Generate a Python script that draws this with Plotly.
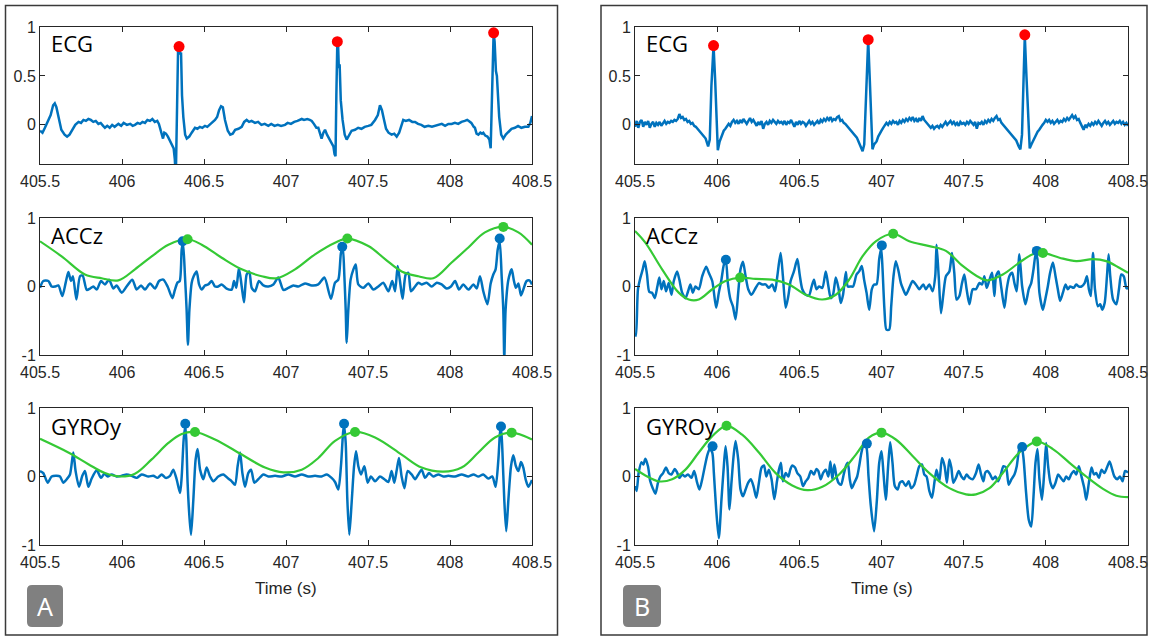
import plotly.graph_objects as go

# ---------------- DATA (time in s, normalised amplitude) ----------------
X_TICKS = [405.5, 406, 406.5, 407, 407.5, 408, 408.5]
X_TICK_LABELS = ["405.5", "406", "406.5", "407", "407.5", "408", "408.5"]
ECG_Y_TICKS = [0, 0.5, 1]
ECG_Y_LABELS = ["0", "0.5", "1"]
IMU_Y_TICKS = [-1, 0, 1]
IMU_Y_LABELS = ["-1", "0", "1"]
SIGNAL_NAMES = ["ECG", "ACCz", "GYROy"]
PANEL_NAMES = ["A", "B"]

A_ECG = [(405.500, -0.06), (405.515, -0.08), (405.530, -0.03), (405.550, 0.05), (405.565, 0.10), (405.580, 0.20),
         (405.590, 0.22), (405.600, 0.18), (405.615, 0.08), (405.630, -0.05), (405.650, -0.10), (405.665, -0.12),
         (405.680, -0.10), (405.700, -0.05), (405.715, 0.00), (405.735, 0.03), (405.750, 0.02), (405.765, 0.05),
         (405.780, 0.04), (405.795, 0.06), (405.810, 0.05), (405.825, 0.03), (405.840, 0.04), (405.856, 0.01),
         (405.870, 0.02), (405.885, -0.01), (405.896, -0.03), (405.910, -0.01), (405.925, -0.03), (405.940, 0.00),
         (405.955, -0.02), (405.978, 0.01), (405.995, -0.01), (406.010, 0.02), (406.030, 0.00), (406.050, 0.01),
         (406.065, -0.01), (406.079, 0.00), (406.095, 0.02), (406.110, 0.01), (406.125, 0.03), (406.140, 0.02),
         (406.155, 0.05), (406.171, 0.04), (406.185, 0.06), (406.200, 0.03), (406.215, 0.04), (406.225, 0.01),
         (406.235, -0.05), (406.242, -0.10), (406.250, -0.14), (406.258, -0.08), (406.268, -0.09), (406.280, -0.12),
         (406.295, -0.17), (406.305, -0.20), (406.315, -0.24), (406.322, -0.35), (406.328, -0.55), (406.336, 0.20),
         (406.342, 0.78), (406.348, 0.80), (406.354, 0.72), (406.360, 0.74), (406.366, 0.30), (406.374, 0.08),
         (406.385, -0.10), (406.395, -0.14), (406.410, -0.12), (406.425, -0.08), (406.445, -0.03), (406.460, -0.04),
         (406.475, -0.02), (406.490, -0.03), (406.506, -0.01), (406.520, -0.02), (406.535, 0.00), (406.550, 0.02),
         (406.567, 0.05), (406.580, 0.08), (406.592, 0.15), (406.604, 0.19), (406.615, 0.18), (406.628, 0.05),
         (406.645, -0.06), (406.660, -0.10), (406.675, -0.09), (406.690, -0.05), (406.710, -0.04), (406.730, -0.02),
         (406.745, 0.03), (406.760, 0.05), (406.775, 0.03), (406.790, 0.04), (406.811, 0.02), (406.830, 0.03),
         (406.850, 0.00), (406.870, 0.01), (406.892, -0.01), (406.910, 0.01), (406.930, -0.01), (406.950, 0.00),
         (406.970, -0.01), (406.994, 0.00), (407.010, 0.02), (407.030, 0.01), (407.050, 0.03), (407.070, 0.04),
         (407.085, 0.05), (407.096, 0.06), (407.110, 0.05), (407.130, 0.06), (407.145, 0.05), (407.157, 0.04),
         (407.170, 0.01), (407.185, -0.03), (407.197, -0.03), (407.205, -0.08), (407.217, -0.14), (407.228, -0.08),
         (407.238, -0.05), (407.250, -0.10), (407.262, -0.14), (407.275, -0.18), (407.289, -0.22), (407.296, -0.30),
         (407.302, -0.32), (407.307, 0.30), (407.313, 0.85), (407.318, 0.80), (407.322, 0.58), (407.327, 0.62),
         (407.334, 0.25), (407.345, 0.05), (407.358, -0.10), (407.370, -0.15), (407.385, -0.10), (407.400, -0.06),
         (407.421, -0.05), (407.440, -0.03), (407.460, -0.04), (407.480, -0.02), (407.502, -0.01), (407.520, 0.00),
         (407.543, 0.05), (407.560, 0.10), (407.573, 0.20), (407.585, 0.15), (407.598, 0.05), (407.610, -0.04),
         (407.625, -0.08), (407.644, -0.10), (407.660, -0.09), (407.675, -0.12), (407.690, -0.08), (407.705, 0.00),
         (407.715, 0.05), (407.730, 0.04), (407.750, 0.05), (407.770, 0.03), (407.787, 0.03), (407.805, 0.01),
         (407.825, 0.00), (407.845, -0.02), (407.868, -0.01), (407.890, -0.02), (407.910, -0.01), (407.930, 0.00),
         (407.950, 0.01), (407.970, -0.01), (407.990, 0.01), (408.010, 0.01), (408.030, 0.02), (408.050, 0.01),
         (408.070, 0.03), (408.090, 0.04), (408.105, 0.05), (408.115, 0.04), (408.130, 0.02), (408.145, -0.02),
         (408.152, -0.03), (408.162, -0.09), (408.173, -0.10), (408.185, -0.08), (408.195, -0.09), (408.203, -0.08),
         (408.215, -0.11), (408.228, -0.12), (408.240, -0.15), (408.248, -0.24), (408.253, 0.10), (408.260, 0.70),
         (408.266, 0.94), (408.272, 0.85), (408.280, 0.55), (408.286, 0.50), (408.293, 0.25), (408.300, 0.08),
         (408.312, -0.10), (408.325, -0.14), (408.340, -0.10), (408.356, -0.07), (408.375, -0.04), (408.396, -0.03),
         (408.415, -0.01), (408.435, -0.03), (408.457, -0.02), (408.478, -0.02), (408.490, 0.02), (408.500, 0.09)]
A_ECG_PEAKS = [(406.348, 0.80), (407.313, 0.85), (408.266, 0.94)]

A_ACC = [(405.500, -0.02), (405.520, 0.08), (405.551, 0.08), (405.571, 0.00), (405.591, 0.00), (405.612, 0.015),
         (405.636, -0.14), (405.657, 0.06), (405.673, 0.21), (405.689, 0.08), (405.701, 0.15), (405.722, -0.19),
         (405.744, 0.15), (405.760, 0.16), (405.785, -0.05), (405.805, -0.03), (405.825, 0.00), (405.846, -0.045),
         (405.872, 0.08), (405.896, 0.03), (405.921, 0.10), (405.947, -0.03), (405.967, 0.015), (405.998, -0.09),
         (406.028, 0.00), (406.063, 0.10), (406.089, -0.045), (406.116, 0.015), (406.140, -0.045), (406.171, 0.045),
         (406.201, -0.03), (406.226, 0.08), (406.252, 0.10), (406.278, 0.00), (406.307, -0.17), (406.323, -0.045),
         (406.339, 0.06), (406.352, 0.08), (406.364, 0.54), (406.372, 0.64), (406.384, 0.15), (406.394, -0.34),
         (406.402, -0.85), (406.411, -0.34), (406.425, 0.055), (406.437, 0.15), (406.455, 0.22), (406.470, 0.03),
         (406.486, -0.045), (406.506, 0.015), (406.526, 0.03), (406.547, 0.08), (406.567, 0.00), (406.587, 0.00),
         (406.608, 0.03), (406.638, -0.03), (406.669, -0.045), (406.683, 0.08), (406.697, -0.02), (406.713, 0.27),
         (406.730, 0.00), (406.744, -0.23), (406.760, 0.175), (406.776, 0.22), (406.791, -0.02), (406.811, -0.07),
         (406.835, 0.08), (406.862, 0.015), (406.892, 0.00), (406.923, 0.03), (406.953, 0.13), (406.984, -0.05),
         (407.014, -0.02), (407.045, 0.015), (407.075, 0.00), (407.116, 0.045), (407.157, 0.015), (407.197, 0.03),
         (407.234, 0.13), (407.274, -0.18), (407.299, 0.055), (407.319, 0.10), (407.335, 0.49), (407.346, 0.57),
         (407.356, 0.15), (407.364, -0.34), (407.370, -0.82), (407.380, -0.34), (407.394, 0.10), (407.411, 0.25),
         (407.425, 0.32), (407.441, 0.03), (407.472, -0.02), (407.502, 0.045), (407.533, -0.045), (407.563, 0.00),
         (407.593, 0.055), (407.624, -0.07), (407.648, 0.08), (407.665, -0.07), (407.681, 0.30), (407.695, 0.08),
         (407.711, -0.18), (407.730, 0.175), (407.746, 0.20), (407.762, -0.07), (407.787, 0.00), (407.807, 0.055),
         (407.827, 0.03), (407.858, 0.055), (407.888, 0.00), (407.919, 0.055), (407.949, 0.03), (407.980, -0.03),
         (408.006, 0.00), (408.031, 0.08), (408.055, -0.045), (408.081, 0.03), (408.112, -0.045), (408.143, 0.03),
         (408.163, -0.03), (408.183, 0.15), (408.203, -0.07), (408.228, -0.26), (408.248, 0.045), (408.264, 0.175),
         (408.278, 0.25), (408.291, 0.54), (408.303, 0.66), (408.315, 0.15), (408.325, -0.34), (408.331, -1.05),
         (408.339, -0.34), (408.356, 0.10), (408.376, 0.25), (408.390, 0.08), (408.402, -0.02), (408.417, 0.045),
         (408.433, -0.13), (408.447, -0.045), (408.467, 0.08), (408.484, 0.09), (408.500, 0.03)]
A_ACC_ENV = [(405.500, 0.66), (405.632, 0.44), (405.774, 0.175), (405.876, 0.12), (405.978, 0.09), (406.079, 0.25),
             (406.181, 0.44), (406.283, 0.61), (406.400, 0.69), (406.486, 0.61), (406.608, 0.42), (406.730, 0.25),
             (406.852, 0.15), (406.943, 0.12), (407.055, 0.25), (407.177, 0.47), (407.299, 0.64), (407.374, 0.70),
             (407.502, 0.59), (407.604, 0.40), (407.705, 0.22), (407.807, 0.15), (407.898, 0.12), (408.010, 0.35),
             (408.112, 0.57), (408.213, 0.79), (408.325, 0.87), (408.417, 0.79), (408.500, 0.61)]
A_ACC_PEAKS = [(406.370, 0.66), (407.343, 0.58), (408.303, 0.70)]
A_ACC_ENV_PEAKS = [(406.400, 0.69), (407.374, 0.70), (408.325, 0.87)]

A_GYR = [(405.500, 0.08), (405.520, 0.05), (405.547, -0.09), (405.571, 0.00), (405.602, 0.01), (405.622, 0.00),
         (405.642, -0.09), (405.663, -0.04), (405.683, 0.03), (405.703, 0.35), (405.717, 0.08), (405.738, -0.15),
         (405.758, 0.01), (405.774, 0.08), (405.795, -0.15), (405.815, -0.03), (405.846, 0.09), (405.872, -0.02),
         (405.892, 0.04), (405.913, 0.00), (405.937, 0.03), (405.967, 0.00), (405.998, 0.01), (406.028, 0.03),
         (406.059, 0.01), (406.089, -0.02), (406.120, 0.03), (406.161, 0.00), (406.191, 0.01), (406.217, -0.02),
         (406.242, 0.03), (406.266, -0.02), (406.293, 0.01), (406.313, 0.10), (406.333, -0.04), (406.354, -0.24),
         (406.364, 0.00), (406.376, 0.54), (406.386, 0.74), (406.392, 0.54), (406.400, -0.09), (406.411, -0.58),
         (406.421, -0.85), (406.435, -0.34), (406.449, 0.25), (406.461, 0.40), (406.476, 0.10), (406.496, -0.04),
         (406.516, 0.13), (406.537, 0.00), (406.557, -0.07), (406.587, 0.00), (406.618, 0.03), (406.648, -0.03),
         (406.669, -0.07), (406.689, -0.12), (406.705, 0.15), (406.720, 0.35), (406.734, 0.05), (406.750, -0.15),
         (406.770, 0.05), (406.787, 0.10), (406.807, -0.09), (406.831, -0.04), (406.862, 0.03), (406.892, 0.00),
         (406.933, 0.01), (406.974, 0.00), (407.014, 0.03), (407.055, 0.00), (407.096, 0.03), (407.136, 0.00),
         (407.177, 0.01), (407.217, 0.00), (407.248, 0.03), (407.278, -0.02), (407.299, -0.08), (407.319, -0.19),
         (407.335, 0.15), (407.348, 0.64), (407.354, 0.75), (407.364, 0.49), (407.374, -0.34), (407.386, -0.85),
         (407.400, -0.39), (407.415, 0.15), (407.427, 0.37), (407.441, 0.15), (407.457, 0.03), (407.478, 0.15),
         (407.498, -0.09), (407.518, 0.00), (407.543, -0.07), (407.573, 0.00), (407.600, -0.04), (407.624, -0.08),
         (407.644, 0.08), (407.660, -0.09), (407.675, 0.09), (407.689, 0.27), (407.705, 0.00), (407.722, -0.17),
         (407.742, 0.08), (407.766, 0.03), (407.787, -0.04), (407.807, 0.03), (407.827, 0.10), (407.848, -0.02),
         (407.872, 0.05), (407.898, 0.00), (407.929, 0.03), (407.959, 0.00), (407.990, 0.01), (408.031, 0.00),
         (408.071, 0.03), (408.112, 0.00), (408.143, 0.03), (408.173, 0.00), (408.203, 0.03), (408.234, -0.03),
         (408.258, 0.00), (408.278, -0.15), (408.295, 0.25), (408.305, 0.64), (408.311, 0.72), (408.319, 0.40),
         (408.331, -0.34), (408.343, -0.80), (408.356, -0.34), (408.372, 0.15), (408.386, 0.31), (408.402, 0.15),
         (408.417, 0.08), (408.433, 0.21), (408.447, 0.13), (408.461, -0.04), (408.478, -0.15), (408.500, -0.05)]
A_GYR_ENV = [(405.500, 0.55), (405.673, 0.35), (405.795, 0.18), (405.896, 0.05), (405.988, 0.00), (406.079, 0.04),
             (406.181, 0.25), (406.283, 0.49), (406.364, 0.62), (406.445, 0.65), (406.567, 0.54), (406.730, 0.32),
             (406.872, 0.13), (406.984, 0.06), (407.096, 0.10), (407.197, 0.27), (407.299, 0.52), (407.421, 0.65),
             (407.543, 0.57), (407.705, 0.32), (407.827, 0.13), (407.959, 0.07), (408.071, 0.13), (408.173, 0.35),
             (408.274, 0.57), (408.376, 0.64), (408.500, 0.54)]
A_GYR_PEAKS = [(406.386, 0.77), (407.354, 0.77), (408.311, 0.73)]
A_GYR_ENV_PEAKS = [(406.445, 0.65), (407.421, 0.65), (408.376, 0.64)]

B_ECG = [(405.50, -0.02), (405.51, 0.04), (405.52, -0.03), (405.53, 0.03), (405.54, 0.05), (405.55, -0.02),
         (405.56, 0.03), (405.57, 0.00), (405.58, 0.04), (405.59, -0.03), (405.60, 0.01), (405.61, 0.03),
         (405.62, -0.02), (405.63, 0.02), (405.64, 0.00), (405.65, 0.03), (405.66, -0.01), (405.67, 0.02),
         (405.68, 0.04), (405.69, 0.01), (405.70, 0.03), (405.71, 0.02), (405.72, 0.04), (405.73, 0.03),
         (405.74, 0.05), (405.75, 0.04), (405.76, 0.06), (405.77, 0.11), (405.78, 0.07), (405.79, 0.08),
         (405.80, 0.05), (405.81, 0.06), (405.82, 0.03), (405.83, 0.04), (405.84, 0.01), (405.85, 0.02),
         (405.86, -0.01), (405.87, -0.02), (405.88, -0.04), (405.89, -0.06), (405.90, -0.08), (405.91, -0.10),
         (405.92, -0.12), (405.93, -0.14), (405.945, -0.22), (405.955, -0.15), (405.965, 0.40), (405.978, 0.81),
         (405.988, 0.45), (405.996, 0.02), (406.004, -0.26), (406.015, -0.17), (406.03, -0.10), (406.04, -0.06),
         (406.05, -0.04), (406.06, -0.02), (406.07, 0.01), (406.08, -0.01), (406.09, 0.03), (406.10, 0.05),
         (406.11, 0.02), (406.12, 0.04), (406.13, 0.01), (406.14, 0.05), (406.15, 0.02), (406.16, 0.06),
         (406.17, 0.03), (406.18, 0.01), (406.19, 0.04), (406.20, 0.07), (406.21, 0.03), (406.22, 0.05),
         (406.23, 0.02), (406.24, -0.01), (406.25, 0.03), (406.26, 0.00), (406.27, 0.04), (406.28, -0.04),
         (406.29, 0.01), (406.30, 0.03), (406.31, 0.00), (406.32, 0.04), (406.33, 0.02), (406.34, 0.05),
         (406.35, 0.03), (406.36, 0.01), (406.37, 0.04), (406.38, 0.02), (406.39, 0.03), (406.40, 0.01),
         (406.41, 0.04), (406.42, 0.00), (406.43, 0.03), (406.44, 0.02), (406.45, 0.05), (406.46, 0.01),
         (406.47, -0.02), (406.48, 0.03), (406.49, 0.00), (406.50, 0.04), (406.51, 0.01), (406.52, 0.03),
         (406.53, 0.02), (406.54, -0.01), (406.55, 0.02), (406.56, 0.04), (406.57, 0.01), (406.58, 0.03),
         (406.59, 0.00), (406.60, 0.02), (406.61, 0.04), (406.62, 0.01), (406.63, 0.05), (406.64, 0.03),
         (406.65, 0.06), (406.66, 0.04), (406.67, 0.07), (406.68, 0.05), (406.69, 0.08), (406.70, 0.04),
         (406.71, 0.06), (406.72, 0.05), (406.73, 0.08), (406.74, 0.09), (406.75, 0.04), (406.76, 0.05),
         (406.77, 0.02), (406.78, 0.01), (406.79, -0.01), (406.80, -0.02), (406.81, -0.04), (406.82, -0.06),
         (406.83, -0.08), (406.84, -0.10), (406.85, -0.13), (406.86, -0.17), (406.875, -0.22), (406.885, -0.27),
         (406.895, -0.20), (406.908, 0.45), (406.919, 0.87), (406.929, 0.45), (406.937, 0.03), (406.945, -0.25),
         (406.955, -0.20), (406.97, -0.17), (406.98, -0.12), (406.99, -0.08), (407.00, -0.06), (407.01, -0.03),
         (407.02, -0.01), (407.03, 0.02), (407.04, 0.00), (407.05, 0.03), (407.06, 0.01), (407.07, 0.04),
         (407.08, 0.02), (407.09, 0.03), (407.10, 0.00), (407.11, 0.04), (407.12, 0.02), (407.13, 0.05),
         (407.14, 0.03), (407.15, 0.06), (407.16, 0.04), (407.17, 0.07), (407.18, 0.05), (407.19, 0.08),
         (407.20, 0.04), (407.21, 0.06), (407.22, 0.03), (407.23, 0.07), (407.24, 0.04), (407.25, 0.09),
         (407.26, 0.05), (407.27, 0.03), (407.28, 0.01), (407.29, -0.01), (407.30, -0.03), (407.31, -0.01),
         (407.32, -0.04), (407.33, -0.02), (407.34, -0.01), (407.35, -0.03), (407.36, 0.00), (407.37, -0.02),
         (407.38, 0.01), (407.39, 0.03), (407.40, 0.00), (407.41, 0.02), (407.42, 0.04), (407.43, 0.01),
         (407.44, 0.03), (407.45, 0.00), (407.46, 0.02), (407.47, -0.01), (407.48, 0.03), (407.49, 0.01),
         (407.50, 0.02), (407.51, 0.00), (407.52, 0.03), (407.53, 0.01), (407.54, 0.04), (407.55, 0.02),
         (407.56, 0.00), (407.57, 0.03), (407.58, -0.04), (407.59, 0.02), (407.60, 0.01), (407.61, 0.03),
         (407.62, 0.00), (407.63, 0.04), (407.64, 0.02), (407.65, 0.05), (407.66, 0.03), (407.67, 0.06),
         (407.68, 0.04), (407.69, 0.07), (407.70, 0.09), (407.71, 0.05), (407.72, 0.06), (407.73, 0.02),
         (407.74, 0.00), (407.75, -0.02), (407.76, -0.03), (407.77, -0.05), (407.78, -0.07), (407.79, -0.09),
         (407.80, -0.11), (407.81, -0.13), (407.82, -0.16), (407.835, -0.22), (407.845, -0.25), (407.855, -0.10),
         (407.864, 0.50), (407.872, 0.91), (407.882, 0.50), (407.892, 0.05), (407.902, -0.24), (407.912, -0.20),
         (407.925, -0.15), (407.94, -0.10), (407.95, -0.07), (407.96, -0.05), (407.97, -0.02), (407.98, 0.00),
         (407.99, 0.02), (408.00, 0.05), (408.01, 0.03), (408.02, 0.05), (408.03, 0.02), (408.04, 0.04),
         (408.05, 0.01), (408.06, 0.03), (408.07, 0.05), (408.08, 0.02), (408.09, 0.04), (408.10, 0.03),
         (408.11, 0.06), (408.12, 0.04), (408.13, 0.07), (408.14, 0.05), (408.15, 0.08), (408.16, 0.10),
         (408.17, 0.07), (408.18, 0.09), (408.19, 0.05), (408.20, 0.06), (408.21, 0.02), (408.22, -0.01),
         (408.23, -0.05), (408.24, 0.00), (408.25, -0.02), (408.26, 0.01), (408.27, -0.01), (408.28, 0.02),
         (408.29, 0.00), (408.30, 0.03), (408.31, 0.01), (408.32, 0.04), (408.33, 0.02), (408.34, -0.01),
         (408.35, 0.02), (408.36, 0.04), (408.37, 0.01), (408.38, 0.03), (408.39, 0.00), (408.40, 0.02),
         (408.41, 0.04), (408.42, 0.01), (408.43, 0.03), (408.44, 0.02), (408.45, 0.04), (408.46, 0.01),
         (408.47, 0.03), (408.48, 0.00), (408.49, 0.02), (408.50, -0.01)]
B_ECG_PEAKS = [(405.978, 0.81), (406.919, 0.87), (407.872, 0.92)]

B_ACC = [(405.500, -0.68), (405.506, -0.72), (405.518, -0.04), (405.533, 0.13), (405.547, 0.25), (405.559, 0.37),
         (405.573, 0.175), (405.587, -0.08), (405.604, -0.09), (405.620, -0.17), (405.636, 0.00), (405.648, 0.13),
         (405.661, -0.04), (405.675, 0.08), (405.689, -0.07), (405.705, 0.05), (405.722, -0.12), (405.736, 0.08),
         (405.756, 0.22), (405.770, 0.10), (405.787, -0.09), (405.807, -0.17), (405.823, -0.07), (405.837, 0.03),
         (405.852, -0.09), (405.868, 0.00), (405.888, -0.04), (405.909, 0.15), (405.933, 0.29), (405.949, 0.20),
         (405.970, 0.08), (405.994, -0.31), (406.010, -0.09), (406.026, 0.10), (406.041, 0.32), (406.053, 0.37),
         (406.065, 0.05), (406.081, -0.19), (406.096, -0.29), (406.112, -0.48), (406.128, -0.09), (406.142, 0.25),
         (406.157, 0.36), (406.173, 0.15), (406.189, -0.04), (406.209, -0.12), (406.230, -0.04), (406.254, 0.05),
         (406.274, 0.03), (406.295, 0.03), (406.315, -0.02), (406.335, 0.03), (406.352, -0.07), (406.366, 0.15),
         (406.386, 0.49), (406.400, 0.15), (406.417, -0.31), (406.433, -0.14), (406.447, 0.08), (406.467, 0.22),
         (406.488, 0.40), (406.502, 0.175), (406.518, -0.04), (406.539, -0.12), (406.559, -0.13), (406.575, 0.00),
         (406.589, 0.10), (406.604, -0.04), (406.620, 0.00), (406.640, -0.02), (406.661, 0.22), (406.677, 0.00),
         (406.691, -0.17), (406.705, -0.12), (406.722, 0.13), (406.738, -0.02), (406.752, -0.24), (406.766, -0.12),
         (406.783, 0.21), (406.795, 0.00), (406.813, 0.00), (406.827, 0.00), (406.848, 0.175), (406.864, 0.22),
         (406.880, 0.30), (406.894, 0.10), (406.909, -0.09), (406.925, -0.34), (406.941, -0.04), (406.955, 0.03),
         (406.970, 0.03), (406.986, 0.40), (406.998, 0.56), (407.006, 0.27), (407.018, -0.34), (407.030, -0.63),
         (407.047, -0.63), (407.059, -0.29), (407.073, 0.15), (407.087, 0.37), (407.104, 0.22), (407.118, 0.05),
         (407.132, -0.04), (407.148, -0.12), (407.169, -0.02), (407.189, 0.08), (407.209, 0.03), (407.230, -0.04),
         (407.254, 0.03), (407.270, -0.04), (407.291, 0.03), (407.311, -0.07), (407.327, 0.15), (407.335, 0.61),
         (407.348, 0.15), (407.362, -0.39), (407.376, -0.12), (407.392, 0.15), (407.413, 0.22), (407.429, 0.49),
         (407.443, 0.20), (407.457, -0.19), (407.474, -0.14), (407.490, 0.05), (407.504, 0.175), (407.518, -0.04),
         (407.535, -0.26), (407.555, -0.04), (407.575, -0.04), (407.596, 0.05), (407.612, 0.03), (407.626, 0.15),
         (407.640, -0.02), (407.657, 0.10), (407.673, 0.20), (407.687, -0.14), (407.697, 0.15), (407.713, 0.22),
         (407.728, 0.00), (407.748, -0.31), (407.762, -0.04), (407.778, 0.15), (407.795, 0.20), (407.809, 0.05),
         (407.823, -0.07), (407.839, 0.47), (407.856, 0.00), (407.876, -0.26), (407.896, -0.04), (407.911, 0.05),
         (407.925, 0.25), (407.939, 0.49), (407.949, 0.40), (407.961, -0.09), (407.982, -0.34), (407.998, -0.17),
         (408.012, 0.00), (408.026, 0.20), (408.043, 0.35), (408.059, 0.15), (408.073, -0.04), (408.087, -0.21),
         (408.104, -0.09), (408.120, 0.03), (408.134, -0.04), (408.148, 0.00), (408.169, -0.02), (408.185, 0.03),
         (408.201, 0.00), (408.217, 0.00), (408.236, 0.05), (408.250, 0.15), (408.262, -0.04), (408.274, -0.14),
         (408.287, 0.49), (408.299, -0.04), (408.317, -0.29), (408.331, -0.26), (408.343, -0.34), (408.358, -0.24),
         (408.372, 0.15), (408.382, 0.47), (408.392, 0.15), (408.409, -0.19), (408.429, -0.26), (408.445, -0.04),
         (408.459, 0.175), (408.474, 0.15), (408.490, -0.02), (408.500, -0.03)]
B_ACC_ENV = [(405.500, 0.81), (405.563, 0.64), (405.665, 0.25), (405.766, -0.09), (405.827, -0.19), (405.888, -0.19),
             (405.970, -0.04), (406.051, 0.08), (406.140, 0.13), (406.234, 0.11), (406.335, 0.10), (406.437, 0.03),
             (406.539, -0.12), (406.640, -0.19), (406.722, -0.12), (406.803, 0.10), (406.884, 0.44), (406.965, 0.66),
             (407.071, 0.77), (407.169, 0.66), (407.291, 0.59), (407.392, 0.52), (407.494, 0.30), (407.596, 0.13),
             (407.646, 0.09), (407.738, 0.175), (407.839, 0.35), (407.921, 0.47), (407.982, 0.49), (408.083, 0.42),
             (408.185, 0.37), (408.287, 0.40), (408.368, 0.37), (408.449, 0.27), (408.500, 0.20)]
B_ACC_PEAKS = [(406.053, 0.39), (407.002, 0.60), (407.945, 0.52)]
B_ACC_ENV_PEAKS = [(406.140, 0.13), (407.071, 0.77), (407.982, 0.49)]

B_GYR = [(405.500, -0.14), (405.510, -0.21), (405.522, 0.05), (405.539, 0.21), (405.551, 0.175), (405.563, 0.26),
         (405.579, 0.15), (405.593, -0.07), (405.608, -0.17), (405.624, -0.25), (405.640, -0.09), (405.654, 0.00),
         (405.671, 0.05), (405.689, 0.13), (405.705, 0.05), (405.722, 0.03), (405.742, 0.11), (405.756, 0.06),
         (405.770, -0.02), (405.787, 0.03), (405.803, 0.00), (405.823, 0.03), (405.843, -0.02), (405.860, 0.08),
         (405.878, -0.09), (405.892, -0.19), (405.909, -0.04), (405.925, 0.15), (405.941, 0.32), (405.955, 0.40),
         (405.970, 0.35), (405.980, 0.05), (405.994, -0.48), (406.010, -0.90), (406.026, -0.34), (406.039, 0.10),
         (406.051, 0.44), (406.063, 0.15), (406.075, -0.48), (406.087, -0.09), (406.100, 0.30), (406.112, 0.52),
         (406.128, 0.25), (406.142, -0.19), (406.157, -0.29), (406.173, -0.19), (406.189, -0.09), (406.205, -0.04),
         (406.222, -0.15), (406.238, -0.31), (406.254, -0.09), (406.270, 0.13), (406.285, 0.16), (406.299, 0.00),
         (406.315, 0.10), (406.331, -0.04), (406.348, -0.33), (406.364, -0.07), (406.376, 0.10), (406.388, 0.20),
         (406.400, -0.07), (406.417, 0.05), (406.433, 0.00), (406.445, 0.10), (406.457, 0.16), (406.474, 0.13),
         (406.488, 0.05), (406.506, 0.00), (406.522, -0.14), (406.539, -0.07), (406.555, -0.02), (406.571, 0.08),
         (406.589, 0.03), (406.604, 0.11), (406.616, 0.08), (406.630, -0.04), (406.644, 0.05), (406.661, 0.10),
         (406.677, 0.00), (406.689, 0.22), (406.701, -0.04), (406.713, 0.175), (406.726, 0.00), (406.738, -0.09),
         (406.754, -0.12), (406.770, 0.03), (406.783, 0.15), (406.795, 0.20), (406.807, -0.04), (406.819, -0.17),
         (406.835, -0.09), (406.852, 0.00), (406.864, 0.15), (406.878, 0.35), (406.894, 0.49), (406.909, 0.42),
         (406.921, 0.00), (406.935, -0.43), (406.955, -0.80), (406.972, -0.34), (406.986, 0.20), (407.000, 0.37),
         (407.012, 0.05), (407.026, -0.34), (407.041, 0.175), (407.053, 0.50), (407.067, 0.20), (407.081, -0.14),
         (407.098, -0.19), (407.112, -0.09), (407.128, -0.07), (407.148, -0.14), (407.165, -0.07), (407.181, -0.17),
         (407.199, -0.12), (407.213, 0.00), (407.230, 0.15), (407.246, 0.175), (407.260, 0.03), (407.274, 0.00),
         (407.291, -0.21), (407.307, -0.31), (407.323, -0.07), (407.335, 0.10), (407.352, -0.07), (407.368, 0.27),
         (407.384, 0.15), (407.398, -0.09), (407.413, 0.25), (407.425, 0.13), (407.437, -0.09), (407.453, -0.02),
         (407.470, 0.08), (407.486, 0.00), (407.502, -0.04), (407.518, 0.03), (407.535, -0.02), (407.555, -0.04),
         (407.575, 0.05), (407.591, 0.175), (407.606, 0.03), (407.620, -0.07), (407.632, 0.06), (407.646, 0.08),
         (407.661, 0.03), (407.677, -0.04), (407.693, 0.00), (407.709, -0.07), (407.726, 0.03), (407.742, 0.15),
         (407.758, 0.13), (407.774, -0.12), (407.791, -0.04), (407.809, 0.03), (407.823, 0.15), (407.839, 0.40),
         (407.852, 0.44), (407.864, 0.27), (407.880, -0.24), (407.896, -0.63), (407.911, -0.73), (407.925, -0.29),
         (407.937, 0.20), (407.949, 0.40), (407.961, -0.04), (407.976, -0.34), (407.990, 0.05), (408.002, 0.49),
         (408.014, 0.15), (408.028, -0.09), (408.043, -0.17), (408.059, -0.09), (408.075, 0.03), (408.091, -0.02),
         (408.108, -0.07), (408.124, 0.00), (408.140, -0.04), (408.154, 0.03), (408.171, 0.08), (408.185, 0.03),
         (408.201, 0.15), (408.217, 0.00), (408.234, -0.17), (408.246, -0.34), (408.262, -0.09), (408.278, 0.13),
         (408.293, 0.03), (408.307, 0.05), (408.323, -0.02), (408.339, 0.10), (408.356, 0.05), (408.372, 0.13),
         (408.388, 0.22), (408.404, 0.10), (408.417, 0.00), (408.435, -0.04), (408.451, 0.00), (408.467, -0.07),
         (408.482, 0.08), (408.500, 0.06)]
B_GYR_ENV = [(405.500, 0.11), (405.563, 0.015), (405.644, -0.07), (405.726, -0.04), (405.807, 0.10), (405.888, 0.35),
             (405.970, 0.59), (406.057, 0.74), (406.152, 0.61), (406.254, 0.35), (406.356, 0.05), (406.457, -0.13),
             (406.549, -0.20), (406.640, -0.15), (406.742, 0.03), (406.844, 0.32), (406.925, 0.57), (407.000, 0.64),
             (407.087, 0.54), (407.189, 0.30), (407.291, 0.05), (407.413, -0.17), (407.514, -0.26), (407.575, -0.26),
             (407.657, -0.17), (407.738, 0.05), (407.839, 0.35), (407.945, 0.51), (408.043, 0.40), (408.144, 0.20),
             (408.246, 0.00), (408.348, -0.18), (408.429, -0.28), (408.500, -0.30)]
B_GYR_PEAKS = [(405.972, 0.44), (406.911, 0.48), (407.856, 0.43)]
B_GYR_ENV_PEAKS = [(406.057, 0.74), (407.000, 0.64), (407.945, 0.51)]

# ---------------- STYLE / LAYOUT ----------------
W, H = 1157, 637
BLUE = "#0072BD"
GREEN = "#35C935"
RED = "#FF0000"
AX = "#262626"

PANEL_X = {"A": (40, 532), "B": (635, 1128)}          # axis box pixel spans
ROW_Y = [(27, 164), (218, 355), (408, 545)]              # top, bottom pixel
LABEL_Y = [43, 235, 426]

fig = go.Figure()


def px_x(x):
    return x / W


def px_y(y):
    return 1 - y / H


def unzip(pairs):
    return [p[0] for p in pairs], [p[1] for p in pairs]


panels = {
    "A": [(A_ECG, None, A_ECG_PEAKS, None),
          (A_ACC, A_ACC_ENV, A_ACC_PEAKS, A_ACC_ENV_PEAKS),
          (A_GYR, A_GYR_ENV, A_GYR_PEAKS, A_GYR_ENV_PEAKS)],
    "B": [(B_ECG, None, B_ECG_PEAKS, None),
          (B_ACC, B_ACC_ENV, B_ACC_PEAKS, B_ACC_ENV_PEAKS),
          (B_GYR, B_GYR_ENV, B_GYR_PEAKS, B_GYR_ENV_PEAKS)],
}

idx = 0
for p in PANEL_NAMES:
    x0, x1 = PANEL_X[p]
    for r, (sig, env, pk, envpk) in enumerate(panels[p]):
        idx += 1
        xa = "x" if idx == 1 else f"x{idx}"
        ya = "y" if idx == 1 else f"y{idx}"
        xkey = "xaxis" if idx == 1 else f"xaxis{idx}"
        ykey = "yaxis" if idx == 1 else f"yaxis{idx}"
        top, bot = ROW_Y[r]
        is_ecg = r == 0
        t, v = unzip(sig)
        fig.add_trace(go.Scatter(x=t, y=v, mode="lines", xaxis=xa, yaxis=ya,
                                 line=dict(color=BLUE, width=2.5,
                                           shape="linear" if is_ecg else "spline",
                                           smoothing=0.7 if not is_ecg else None),
                                 showlegend=False, hoverinfo="skip"))
        if env is not None:
            te, ve = unzip(env)
            fig.add_trace(go.Scatter(x=te, y=ve, mode="lines", xaxis=xa, yaxis=ya,
                                     line=dict(color=GREEN, width=2.2, shape="spline", smoothing=1.0),
                                     showlegend=False, hoverinfo="skip"))
        tp, vp = unzip(pk)
        fig.add_trace(go.Scatter(x=tp, y=vp, mode="markers", xaxis=xa, yaxis=ya,
                                 marker=dict(color=RED if is_ecg else BLUE, size=11 if is_ecg else 10),
                                 showlegend=False, hoverinfo="skip", cliponaxis=False))
        if envpk is not None:
            tg, vg = unzip(envpk)
            fig.add_trace(go.Scatter(x=tg, y=vg, mode="markers", xaxis=xa, yaxis=ya,
                                     marker=dict(color=GREEN, size=10),
                                     showlegend=False, hoverinfo="skip", cliponaxis=False))
        common = dict(showline=True, linecolor=AX, linewidth=1, mirror="ticks", ticks="inside",
                      ticklen=5, tickcolor=AX, showgrid=False, zeroline=False, automargin=False,
                      tickfont=dict(family="Liberation Sans, Arial", size=16, color=AX))
        fig.layout[xkey] = dict(domain=[px_x(x0), px_x(x1)], anchor=ya, range=[405.5, 408.5],
                                tickvals=X_TICKS, ticktext=X_TICK_LABELS, ticklabelstandoff=3, **common)
        fig.layout[ykey] = dict(domain=[px_y(bot), px_y(top)], anchor=xa,
                                range=[-0.4, 1] if is_ecg else [-1, 1],
                                tickvals=ECG_Y_TICKS if is_ecg else IMU_Y_TICKS,
                                ticktext=ECG_Y_LABELS if is_ecg else IMU_Y_LABELS, **common)
        fig.add_annotation(text=SIGNAL_NAMES[r], xref="paper", yref="paper",
                           x=px_x(x0 + 9), y=px_y(LABEL_Y[r]), xanchor="left", yanchor="middle",
                           showarrow=False, font=dict(family="Open Sans", size=22, color="black"))
    fig.add_annotation(text="Time (s)", xref="paper", yref="paper",
                       x=px_x((x0 + x1) / 2), y=px_y(588), xanchor="center", yanchor="middle",
                       showarrow=False, font=dict(family="Liberation Sans, Arial", size=17, color=AX))

# panel frames
for (fx0, fx1) in [(5.5, 557.5), (601, 1147)]:
    fig.add_shape(type="rect", xref="paper", yref="paper",
                  x0=px_x(fx0), x1=px_x(fx1), y0=px_y(635), y1=px_y(5.5),
                  line=dict(color="#3a3a3a", width=1.5), fillcolor="rgba(0,0,0,0)")


def rounded_box(bx0, by0, bx1, by1, r):
    X = px_x
    Y = px_y
    return (f"M {X(bx0 + r)},{Y(by0)} L {X(bx1 - r)},{Y(by0)} Q {X(bx1)},{Y(by0)} {X(bx1)},{Y(by0 + r)} "
            f"L {X(bx1)},{Y(by1 - r)} Q {X(bx1)},{Y(by1)} {X(bx1 - r)},{Y(by1)} "
            f"L {X(bx0 + r)},{Y(by1)} Q {X(bx0)},{Y(by1)} {X(bx0)},{Y(by1 - r)} "
            f"L {X(bx0)},{Y(by0 + r)} Q {X(bx0)},{Y(by0)} {X(bx0 + r)},{Y(by0)} Z")


for name, (bx0, bx1) in zip(PANEL_NAMES, [(27, 63), (623, 661)]):
    fig.add_shape(type="path", xref="paper", yref="paper", path=rounded_box(bx0, 585, bx1, 627, 5),
                  fillcolor="#808080", line=dict(width=0))
    fig.add_annotation(text=name, xref="paper", yref="paper", x=px_x((bx0 + bx1) / 2), y=px_y(606),
                       xanchor="center", yanchor="middle", showarrow=False,
                       font=dict(family="Noto Sans", size=25, color="white"))

fig.update_layout(width=W, height=H, margin=dict(l=0, r=0, t=0, b=0, pad=0, autoexpand=False),
                  paper_bgcolor="white", plot_bgcolor="white", showlegend=False)

fig.write_html("out.html", config={"displayModeBar": False},
               post_script="document.body.style.margin='0';document.body.style.overflow='hidden';")
